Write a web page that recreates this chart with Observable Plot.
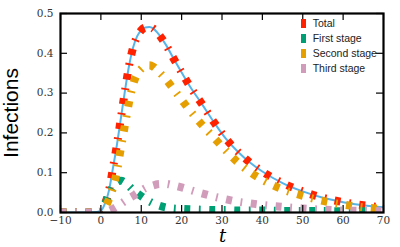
<!DOCTYPE html>
<html><head><meta charset="utf-8">
<script src="https://cdn.jsdelivr.net/npm/d3@7"></script>
<script src="https://cdn.jsdelivr.net/npm/@observablehq/plot@0.6"></script>
<style>
body{margin:0;background:#fff;}
#wrap{position:relative;width:400px;height:247px;overflow:hidden;background:#fff;}
#wrap svg{position:absolute;left:0;top:0;}
.lab{position:absolute;white-space:nowrap;}
#ylab{left:10px;top:112.5px;font-family:'Liberation Sans',Arial,sans-serif;font-size:21px;line-height:17px;color:#000;transform:translate(-50%,-50%) rotate(-90deg);}
#xlab{left:222.5px;top:229.3px;font-family:'DejaVu Serif',serif;font-style:italic;font-size:18px;line-height:13px;color:#000;transform:translateX(-50%);}
#legend{position:absolute;left:300px;top:0;font-family:'Liberation Sans',Arial,sans-serif;font-size:10.5px;color:#222;}
.row{position:absolute;left:0;height:15px;white-space:nowrap;}
.sw{position:absolute;left:0.7px;width:5.5px;height:9px;}
.tx{position:absolute;left:12.7px;line-height:1;}
</style></head><body><div id="wrap"><div id="ylab" class="lab">Infections</div><div id="xlab" class="lab">t</div><div id="legend"></div></div>
<script>
// time grid (shared by all series)
const t = [-10,-5,-2,0,1,2,3,4,5,6,7,8,9,10,11,12,13,14,16,18,20,22,25,28,31,34,37,40,45,50,55,60,65,70];
const total = [0,0,0.0005,0.004,0.022,0.055,0.112,0.172,0.24,0.308,0.37,0.415,0.443,0.458,0.465,0.466,0.462,0.452,0.423,0.387,0.352,0.318,0.273,0.227,0.185,0.152,0.125,0.103,0.074,0.053,0.037,0.026,0.018,0.013];
const firstStage = [0,0,0,0.003,0.02,0.045,0.065,0.077,0.08,0.075,0.066,0.056,0.048,0.041,0.034,0.028,0.023,0.019,0.013,0.01,0.009,0.008,0.007,0.006,0.006,0.005,0.005,0.005,0.004,0.004,0.004,0.003,0.003,0.003];
const secondStage = [0,0,0,0.002,0.012,0.033,0.062,0.105,0.165,0.222,0.278,0.322,0.348,0.361,0.368,0.37,0.366,0.357,0.336,0.31,0.283,0.257,0.221,0.188,0.155,0.125,0.101,0.082,0.058,0.042,0.029,0.02,0.013,0.009];
const thirdStage = [0,0,0,0,0.001,0.004,0.009,0.015,0.022,0.029,0.036,0.042,0.049,0.055,0.061,0.065,0.068,0.071,0.072,0.068,0.063,0.057,0.048,0.04,0.033,0.027,0.023,0.019,0.014,0.01,0.007,0.005,0.004,0.003];
const xTicks = [-10,0,10,20,30,40,50,60,70];
const yTicks = [0,0.1,0.2,0.3,0.4,0.5];
const seriesNames = ["Total","First stage","Second stage","Third stage"];
const seriesColors = ["#ff2200","#009e73","#e69f00","#d09cba"];
const modelColor = "#56b4e9";

const W = 400, H = 247, mL = 60, mR = 17, mT = 13, mB = 35;
const fw = W - mL - mR, fh = H - mT - mB, tickLen = 7;
const serif = "'DejaVu Serif', serif";
const rows = vals => t.map((x, i) => ({t: x, v: vals[i]}));
const dash = "6,8.6,1.8,8.6";
const dashed = (vals, c) => Plot.line(rows(vals), {x: "t", y: "v", stroke: c, strokeWidth: 8, strokeDasharray: dash, strokeLinecap: "butt", curve: "monotone-x", clip: true});

const plot = Plot.plot({
  width: W, height: H, marginLeft: mL, marginRight: mR, marginTop: mT, marginBottom: mB,
  x: {domain: [-10, 70]},
  y: {domain: [0, 0.5]},
  style: {fontFamily: serif, fontSize: "10.5px", color: "#333", background: "transparent", overflow: "visible"},
  marks: [
    Plot.line(rows(total), {x: "t", y: "v", stroke: modelColor, strokeWidth: 2, curve: "monotone-x", clip: true}),
    dashed(total, seriesColors[0]),
    dashed(firstStage, seriesColors[1]),
    dashed(secondStage, seriesColors[2]),
    dashed(thirdStage, seriesColors[3]),
    Plot.ruleX(xTicks, {x: d => d, insetTop: fh - tickLen, stroke: "#000", strokeWidth: 1.2}),
    Plot.ruleX(xTicks, {x: d => d, insetBottom: fh - tickLen, stroke: "#000", strokeWidth: 1.2}),
    Plot.ruleY(yTicks, {y: d => d, insetRight: fw - tickLen, stroke: "#000", strokeWidth: 1.2}),
    Plot.ruleY(yTicks, {y: d => d, insetLeft: fw - tickLen, stroke: "#000", strokeWidth: 1.2}),
    Plot.frame({stroke: "#000", strokeWidth: 2.2}),
    Plot.axisX(xTicks, {tickSize: 0, tickPadding: 4, label: null, fontFamily: serif, fontSize: 10.5}),
    Plot.axisY(yTicks, {tickSize: 0, tickPadding: 7, label: null, tickFormat: d3.format(".1f"), fontFamily: serif, fontSize: 10.5})
  ]
});
document.getElementById("wrap").prepend(plot);

const legend = document.getElementById("legend");
seriesNames.forEach((name, i) => {
  const row = document.createElement("div");
  row.className = "row";
  row.style.top = (15.5 + 15 * i) + "px";
  row.innerHTML = `<span class="sw" style="background:${seriesColors[i]};top:3px"></span><span class="tx" style="top:2px">${name}</span>`;
  legend.appendChild(row);
});
</script>
</body></html>
